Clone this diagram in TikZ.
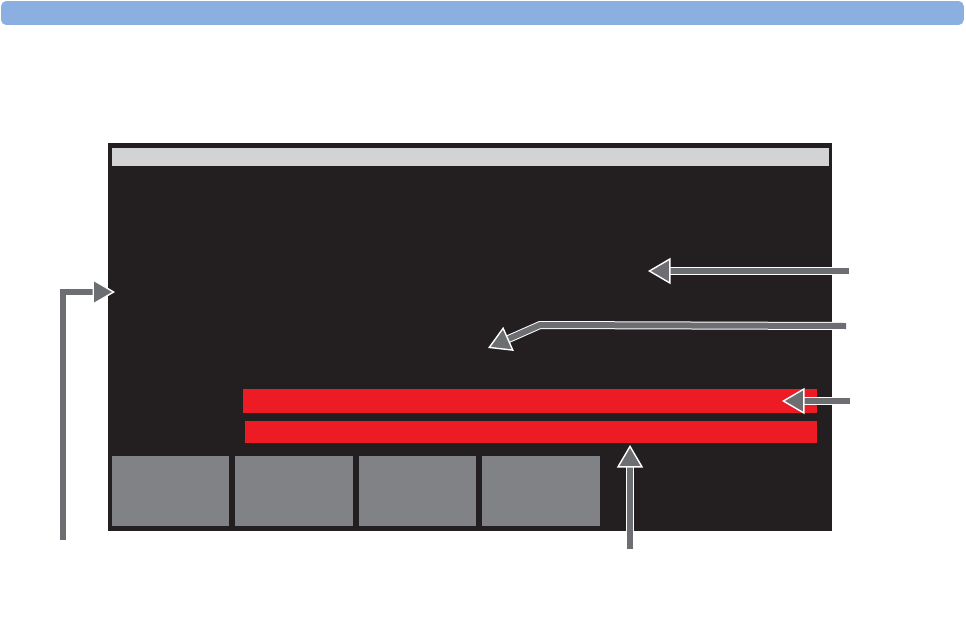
\documentclass[tikz,border=0pt]{standalone}
\usepackage{xcolor}
\usepackage{tikz}
\usetikzlibrary{arrows.meta, positioning}

\definecolor{topblue}{HTML}{8CAFE1}
\definecolor{screenbg}{HTML}{231F20}
\definecolor{headergray}{HTML}{D1D3D4}
\definecolor{alarmred}{HTML}{ED1C24}
\definecolor{keygray}{HTML}{808285}
\definecolor{pointergray}{HTML}{6D6E71}

\begin{document}
\begin{tikzpicture}[
      x=0.02cm, y=-0.02cm,
      node distance=0.12cm,
      panel/.style={inner sep=0pt, outer sep=0pt, anchor=north west},
      key/.style={panel, fill=keygray, minimum width=2.35cm, minimum height=1.4cm},
      pointer/.style={draw=pointergray, line width=0.12cm,
        -{Triangle[length=0.45cm, width=0.52cm, fill=pointergray, color=white, line width=0.8pt]},
        preaction={draw=white, line width=0.16cm, -, shorten >=0.3cm}}
    ]
      \useasboundingbox (0,0) rectangle (966,632);
      % title bar
      \node[panel, fill=topblue, rounded corners=3pt, minimum width=19.26cm, minimum height=0.48cm] (titlebar) at (1,1) {};
      % monitor screen
      \node[panel, fill=screenbg, minimum width=14.48cm, minimum height=7.76cm] (screen) at (108,143) {};
      \node[panel, fill=headergray, minimum width=14.34cm, minimum height=0.36cm] (header) at (112,148) {};
      \node[panel, fill=alarmred, minimum width=11.48cm, minimum height=0.48cm] (alarmA) at (243,389) {};
      \node[panel, fill=alarmred, minimum width=11.44cm, minimum height=0.44cm] (alarmB) at (245,421) {};
      \node[key] (key1) at (112,456) {};
      \node[key, right=of key1] (key2) {};
      \node[key, right=of key2] (key3) {};
      \node[key, right=of key3] (key4) {};

      % pointer ends
      \coordinate (sideStart) at (63,540);
      \coordinate (sideEnd) at (115,292);
      \coordinate (waveStart) at (849,271);
      \coordinate (waveEnd) at (648,271);
      \coordinate (numStart) at (846,326);
      \coordinate (numBend) at (540,325);
      \coordinate (numEnd) at (488,348);
      \coordinate (alarmStart) at (850,401);
      \coordinate (alarmEnd) at (782,401);
      \coordinate (infoStart) at (630,549);
      \coordinate (infoEnd) at (630,445);

      \draw[pointer] (sideStart) |- (sideEnd);
      \draw[pointer] (waveStart) -- (waveEnd);
      \draw[pointer] (numStart) -- (numBend) -- (numEnd);
      \draw[pointer] (alarmStart) -- (alarmEnd);
      \draw[pointer] (infoStart) -- (infoEnd);
    \end{tikzpicture}
\end{document}
